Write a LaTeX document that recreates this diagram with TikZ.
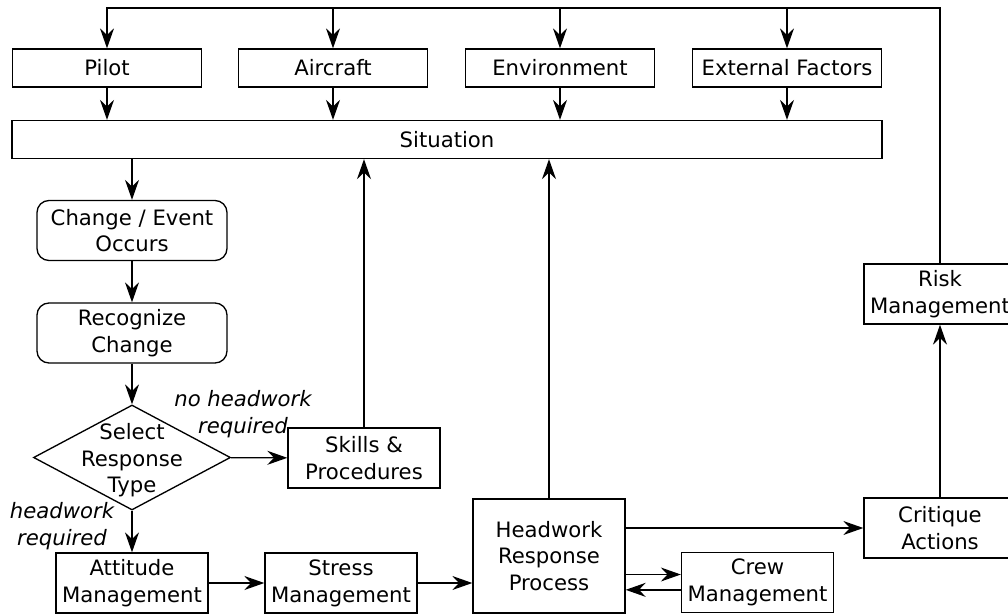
\documentclass[tikz,border=0pt]{standalone}
\usepackage{fontspec}
\setmainfont{DejaVu Sans}[ItalicFont={DejaVu Sans Oblique}]
\usetikzlibrary{arrows.meta,shapes.geometric}
\begin{document}
\begin{tikzpicture}[x=0.75pt,y=-0.75pt,
  font=\fontsize{15.9pt}{20pt}\selectfont,
  box/.style={draw, line width=1pt, align=center, inner sep=2pt,
    minimum width=114pt, minimum height=45pt},
  widebox/.style={draw, line width=1pt, align=center,
    minimum width=141.75pt, minimum height=28.5pt},
  rbox/.style={draw, line width=1pt, rounded corners=9pt, align=center,
    minimum width=142.5pt, minimum height=45pt},
  decision/.style={draw, line width=1pt, diamond, inner sep=0pt,
    minimum width=147.75pt, minimum height=78.75pt},
  label/.style={align=center},
  note/.style={align=center, font=\fontsize{15.9pt}{20pt}\selectfont\itshape},
  arr/.style={-{Stealth[length=15pt,width=10.5pt,inset=5pt]}, line width=1pt}]

\useasboundingbox (0,0) rectangle (1008,615);
\clip (0,0) rectangle (1008,615);

% top row of factors
\node[widebox] (pilot)    at (107,68) {Pilot};
\node[widebox] (aircraft) at (333,68) {Aircraft};
\node[widebox] (env)      at (560,68) {Environment};
\node[widebox] (ext)      at (787,68) {External Factors};

\node[draw, line width=1pt, minimum width=652.5pt, minimum height=28.5pt]
  (sit) at (447,139.5) {Situation};

% left column
\node[rbox] (change) at (132,230.5) {Change / Event\\Occurs};
\node[rbox] (recog)  at (132,333)   {Recognize\\Change};
\node[decision] (select) at (132,457.5) {};
\node[label] (selecttext) at ([yshift=-2pt]select.center) {Select\\Response\\Type};

\node[box] (skills) at (364,458) {Skills \&\\Procedures};
\node[box] (att)    at (132,583) {Attitude\\Management};
\node[box] (stress) at (341,583) {Stress\\Management};
\node[box, minimum height=85.5pt] (head) at (549,556) {Headwork\\Response\\Process};
\node[box] (crew)   at (757.5,582.5) {Crew\\Management};
\node[box] (crit)   at (940,528) {Critique\\Actions};
\node[box] (risk)   at (940,294) {Risk\\Management};

\node[note] (nohw) at (243,414) {no headwork\\required};
\node[note] (hw)   at (62,526)  {headwork\\required};

% feedback loop across the top
\coordinate (topR) at (940,8);
\draw[arr] (risk.north) -- (topR) -| (pilot.north);
\foreach \n in {aircraft,env,ext}
  \draw[arr] (\n.north |- topR) -- (\n.north);
\foreach \n in {pilot,aircraft,env,ext}
  \draw[arr] (\n.south) -- (\n.south |- sit.north);

% flow
\draw[arr] (change.north |- sit.south) -- (change.north);
\draw[arr] (change) -- (recog);
\draw[arr] (recog) -- (select);
\draw[arr] (select) -- (att);
\draw[arr] (select) -- (skills);
\draw[arr] (skills) -- (skills |- sit.south);
\draw[arr] (att) -- (stress);
\draw[arr] (stress.east) -- (stress.east -| head.west);
\draw[arr] ([yshift=6pt]crew.west -| head.east) -- ([yshift=6pt]crew.west);
\draw[arr] ([yshift=-5.5pt]crew.west) -- ([yshift=-5.5pt]crew.west -| head.east);
\draw[arr] (crit.west -| head.east) -- (crit.west);
\draw[arr] (head) -- (head |- sit.south);
\draw[arr] (crit) -- (risk);
\end{tikzpicture}
\end{document}
